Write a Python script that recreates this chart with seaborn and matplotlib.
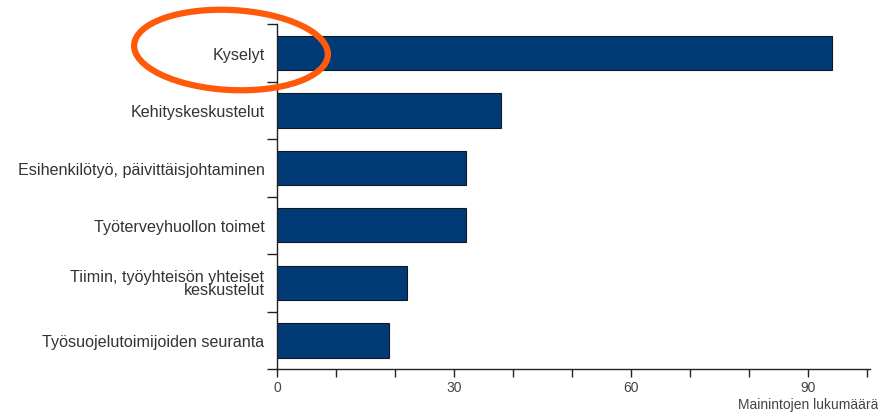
import numpy as np
import pandas as pd
import seaborn as sns
import matplotlib
matplotlib.use('Agg')
import matplotlib.pyplot as plt
from matplotlib.patches import Ellipse

categories = ['Kyselyt',
              'Kehityskeskustelut',
              'Esihenkilötyö, päivittäisjohtaminen',
              'Työterveyhuollon toimet',
              'Tiimin, työyhteisön yhteiset\nkeskustelut',
              'Työsuojelutoimijoiden seuranta']
counts = [94, 38, 32, 32, 22, 19]
xticks = [0, 30, 60, 90]
xlabel = 'Mainintojen lukumäärä'

sns.set_style('white')
plt.rcParams['font.family'] = ['Liberation Sans', 'DejaVu Sans']

df = pd.DataFrame({'cat': categories, 'n': counts})

fig = plt.figure(figsize=(8.79, 4.14), dpi=100)
ax = fig.add_axes([277/879, 1-370/414, 593/879, 345/414])
sns.barplot(data=df, y='cat', x='n', orient='h', color='#003B78',
            width=0.6, edgecolor='#101820', linewidth=0.8, saturation=1, ax=ax)

ax.set_xlim(0, 100.5)
ax.set_ylim(5.5, -0.5)
ax.set_xticks(xticks)
ax.set_xticks(np.arange(0, 101, 10), minor=True)
ax.tick_params(axis='x', which='both', direction='out', length=6, width=1,
               color='#222222', labelsize=10, labelcolor='#444444', bottom=True, pad=2)
ax.set_yticks(np.arange(-0.5, 6, 1), minor=True)
ax.tick_params(axis='y', which='minor', direction='out', length=7, width=1,
               color='#222222', left=True)
ax.tick_params(axis='y', which='major', length=0, labelsize=11.6,
               labelcolor='#333333', pad=9)
for lab in ax.get_yticklabels():
    lab.set_horizontalalignment('right')
    lab.set_linespacing(0.85)
ax.set_ylabel('')
ax.set_xlabel('')
for s in ['top', 'right']:
    ax.spines[s].set_visible(False)
for s in ['left', 'bottom']:
    ax.spines[s].set_color('#222222')
    ax.spines[s].set_linewidth(1)

fig.text(878/879, 1-405/414, xlabel, ha='right', va='center', fontsize=10, color='#444444')

# orange highlight ring, pixel coordinates
over = fig.add_axes([0, 0, 1, 1], facecolor='none')
over.set_xlim(0, 879)
over.set_ylim(414, 0)
over.axis('off')
over.add_patch(Ellipse((231, 51), 194, 80, angle=3, fill=False,
                       edgecolor='#FF5A0A', linewidth=4.5))

fig.savefig('out.png', dpi=100)
